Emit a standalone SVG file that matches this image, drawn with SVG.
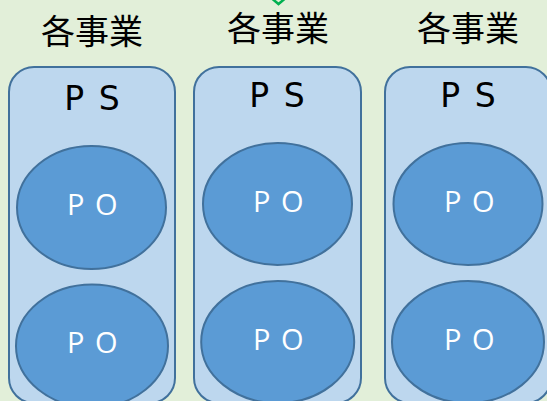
<svg xmlns="http://www.w3.org/2000/svg" width="547" height="401" viewBox="0 0 547 401">
<style>
.bg{fill:#e2efd9}
.ps{fill:#bdd7ee;stroke:#41719c;stroke-width:2}
.po{fill:#5b9bd5;stroke:#41719c;stroke-width:2}
.h{font-family:"Noto Sans CJK JP","Noto Sans CJK SC",sans-serif;font-size:34px;fill:#000;text-anchor:middle}
.pst{font-family:"DejaVu Sans",sans-serif;font-size:33px;fill:#000;text-anchor:middle;letter-spacing:2px}
.pot{font-family:"Open Sans",sans-serif;font-size:29px;fill:#fff;text-anchor:middle;letter-spacing:1.5px}
</style>
<rect class="bg" x="0" y="0" width="547" height="401"/>
<g id="connectors">
<polyline points="272.5,-1 278.5,4 284.5,-1" fill="none" stroke="#00b050" stroke-width="2.5"/>
</g>
<g id="col1">
<text class="h" x="92" y="44">各事業</text>
<rect class="ps" x="9" y="67" width="166" height="336" rx="25" ry="25"/>
<text class="pst" x="93" y="110">P S</text>
<g id="po1a"><ellipse class="po" cx="91.5" cy="207.5" rx="74.5" ry="61.5"/><text class="pot" x="93" y="215">P O</text></g>
<g id="po1b"><ellipse class="po" cx="92" cy="346" rx="76" ry="61.5"/><text class="pot" x="93" y="353">P O</text></g>
</g>
<g id="col2">
<text class="h" x="278" y="41">各事業</text>
<rect class="ps" x="194" y="67" width="167" height="336" rx="25" ry="25"/>
<text class="pst" x="278" y="107">P S</text>
<g id="po2a"><ellipse class="po" cx="277.5" cy="204" rx="74.5" ry="61"/><text class="pot" x="279" y="212">P O</text></g>
<g id="po2b"><ellipse class="po" cx="277.7" cy="342" rx="76.5" ry="61"/><text class="pot" x="279" y="350">P O</text></g>
</g>
<g id="col3">
<text class="h" x="468" y="41">各事業</text>
<rect class="ps" x="385" y="67" width="166" height="336" rx="25" ry="25"/>
<text class="pst" x="469" y="107">P S</text>
<g id="po3a"><ellipse class="po" cx="468" cy="204" rx="74.5" ry="61"/><text class="pot" x="470" y="212">P O</text></g>
<g id="po3b"><ellipse class="po" cx="468" cy="342" rx="76" ry="61"/><text class="pot" x="470" y="350">P O</text></g>
</g>
</svg>
